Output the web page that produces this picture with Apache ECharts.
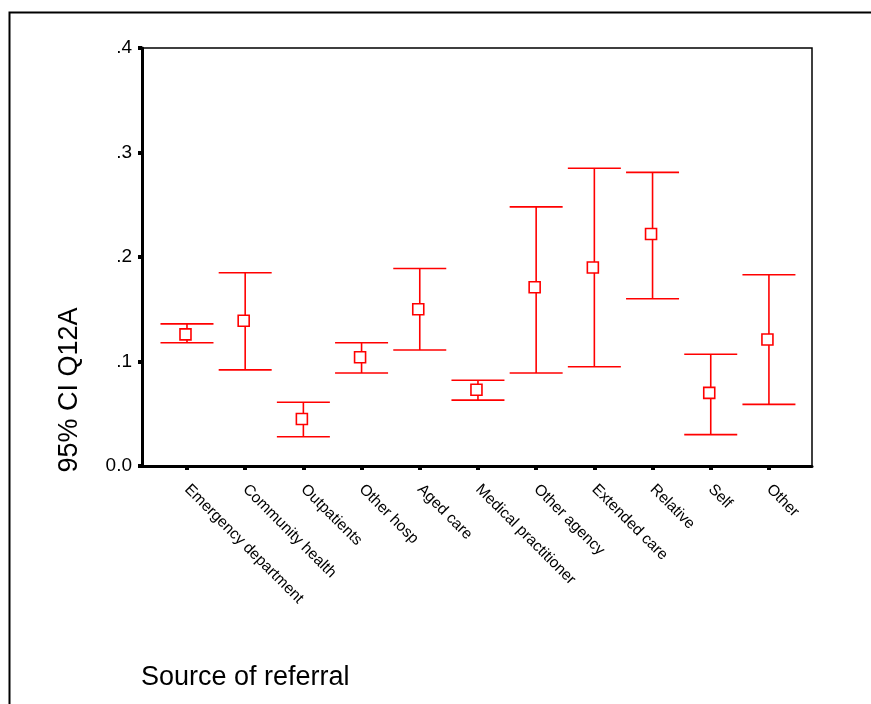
<!DOCTYPE html>
<html>
<head>
<meta charset="utf-8">
<script src="https://cdn.jsdelivr.net/npm/echarts@6/dist/echarts.min.js"></script>
<style>
  html, body { margin: 0; padding: 0; background: #fff; }
  #chart { width: 871px; height: 704px; }
</style>
</head>
<body>
<div id="chart"></div>
<script>
// 类别
const categories = [
  "Emergency department", "Community health", "Outpatients", "Other hosp",
  "Aged care", "Medical practitioner", "Other agency", "Extended care",
  "Relative", "Self", "Other"
];
// 均值和95%置信区间
const means = [0.126, 0.139, 0.045, 0.104, 0.150, 0.073, 0.171, 0.190, 0.222, 0.070, 0.121];
const lower = [0.118, 0.092, 0.028, 0.089, 0.111, 0.063, 0.089, 0.095, 0.160, 0.030, 0.059];
const upper = [0.136, 0.185, 0.061, 0.118, 0.189, 0.082, 0.248, 0.285, 0.281, 0.107, 0.183];
// y轴刻度
const yTicks = [0, 0.1, 0.2, 0.3, 0.4];
const yTickLabels = ["0.0", ".1", ".2", ".3", ".4"];

const font = "Liberation Sans";
const red = "#ff0000";

const myChart = echarts.init(document.getElementById("chart"));

const option = {
  animation: false,
  backgroundColor: "#fff",
  title: {
    text: "Source of referral",
    left: 141,
    top: 664,
    padding: 0,
    textStyle: { fontFamily: font, fontSize: 27, fontWeight: "normal", color: "#000" }
  },
  graphic: [
    {
      type: "rect",
      shape: { x: 9.5, y: 12.5, width: 1000, height: 1000 },
      style: { fill: "none", stroke: "#000", lineWidth: 2 },
      silent: true
    },
    {
      type: "text",
      x: 70,
      y: 390,
      rotation: Math.PI / 2,
      style: {
        text: "95% CI Q12A",
        font: "27px " + font,
        fill: "#000",
        textAlign: "center",
        textVerticalAlign: "middle"
      }
    }
  ],
  grid: {
    left: 142, right: 59, top: 48, bottom: 238,
    show: true, borderColor: "#000", borderWidth: 1.5
  },
  xAxis: {
    type: "value",
    min: -0.773,
    max: 10.74,
    splitLine: { show: false },
    axisLine: { show: true, onZero: false, lineStyle: { color: "#000", width: 3 } },
    axisTick: {
      show: true, length: 4, inside: false,
      customValues: categories.map((c, i) => i),
      lineStyle: { color: "#000", width: 4 }
    },
    axisLabel: {
      customValues: categories.map((c, i) => i),
      formatter: (v) => categories[Math.round(v)] || "",
      rotate: -45,
      margin: 21,
      fontFamily: font,
      fontSize: 15.5,
      color: "#000"
    }
  },
  yAxis: {
    type: "value",
    min: 0,
    max: 0.4,
    interval: 0.1,
    splitLine: { show: false },
    axisLine: { show: true, onZero: false, lineStyle: { color: "#000", width: 3 } },
    axisTick: { show: true, length: 4, lineStyle: { color: "#000", width: 4 } },
    axisLabel: {
      margin: 10,
      fontFamily: font,
      fontSize: 19,
      color: "#000",
      formatter: (v) => {
        const i = yTicks.findIndex((t) => Math.abs(t - v) < 1e-9);
        return i >= 0 ? yTickLabels[i] : "";
      }
    }
  },
  series: [
    {
      type: "custom",
      data: categories.map((c, i) => [i, lower[i], upper[i], means[i]]),
      encode: { x: 0, y: [1, 2, 3] },
      renderItem: (params, api) => {
        const x = api.value(0);
        const lo = api.coord([x, api.value(1)]);
        const hi = api.coord([x, api.value(2)]);
        const mid = api.coord([x, api.value(3)]);
        const half = 26.5; // 横杠半宽
        const sq = 11; // 方块大小
        const style = { stroke: red, lineWidth: 1.6, fill: "none" };
        return {
          type: "group",
          children: [
            { type: "line", shape: { x1: hi[0], y1: hi[1], x2: lo[0], y2: lo[1] }, style },
            { type: "line", shape: { x1: hi[0] - half, y1: hi[1], x2: hi[0] + half, y2: hi[1] }, style },
            { type: "line", shape: { x1: lo[0] - half, y1: lo[1], x2: lo[0] + half, y2: lo[1] }, style },
            {
              type: "rect",
              shape: { x: mid[0] - 1.5 - sq / 2, y: mid[1] - sq / 2, width: sq, height: sq },
              style: { stroke: red, lineWidth: 1.6, fill: "#fff" }
            }
          ]
        };
      }
    }
  ]
};

myChart.setOption(option);
</script>
</body>
</html>
